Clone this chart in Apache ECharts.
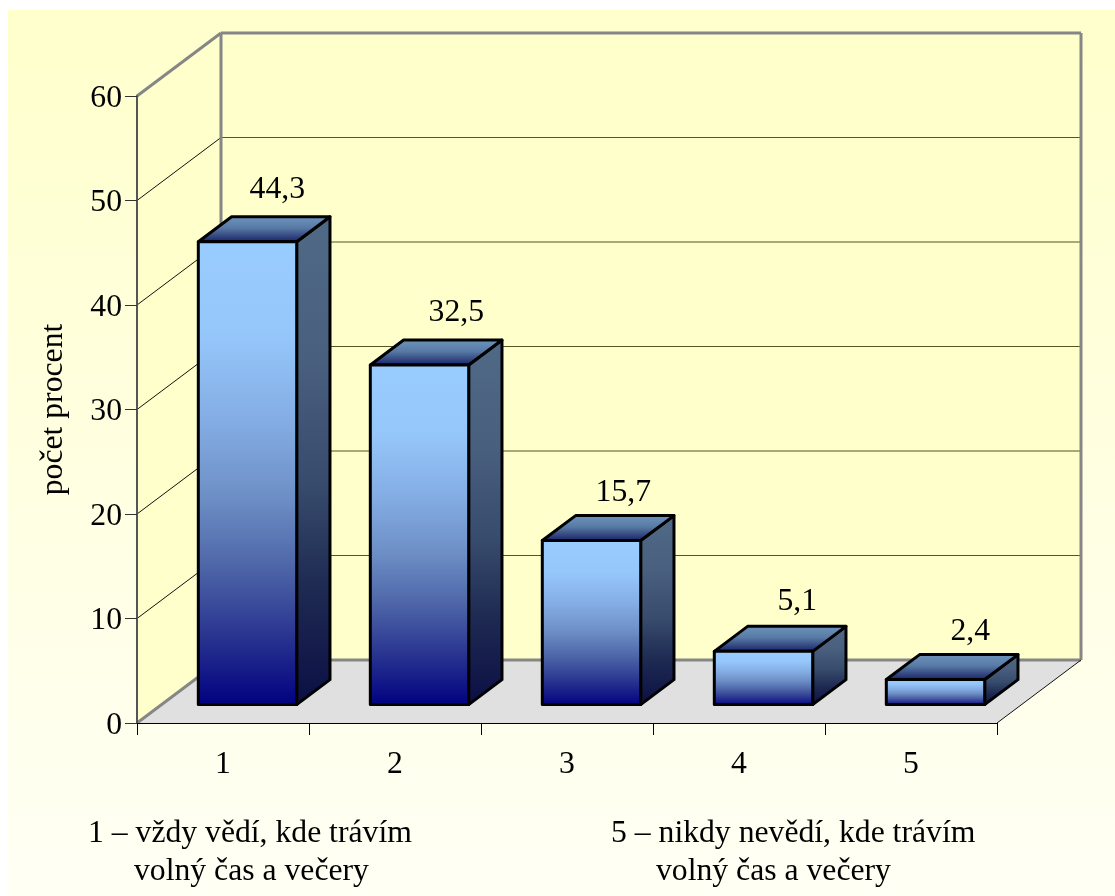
<!DOCTYPE html>
<html>
<head>
<meta charset="utf-8">
<style>html,body{margin:0;padding:0;background:#fff}#chart{width:1115px;height:896px}</style>
<script src="https://cdn.jsdelivr.net/npm/echarts@6/dist/echarts.min.js"></script>
</head>
<body>
<div id="chart"></div>
<script>
// Answer categories and the share of respondents (percent) for each
const categories = ['1', '2', '3', '4', '5'];
const percents = [44.3, 32.5, 15.7, 5.1, 2.4];
const valueTicks = [0, 10, 20, 30, 40, 50, 60];
const noteLeft = ['1 – vždy vědí, kde trávím', 'volný čas a večery'];
const noteRight = ['5 – nikdy nevědí, kde trávím', 'volný čas a večery'];
const axisTitle = 'počet procent';

// Oblique projection of the chart box
const DEPTH_X = 84, DEPTH_Y = -63;
const BAR_FRONT = 0.2917, BAR_BACK = 0.688, BAR_WIDTH = 0.572;
// Hand-placed value labels, relative to the bar's left edge and rear top edge
const labelShift = [[79, -27], [86, -27], [81, -23], [83, -25], [84, -23]];

const FONT = '"Liberation Serif", "Times New Roman", serif';
const FONT_SIZE = 31.7;
const GREY = '#868686';

// Shading of the three visible bar faces, top of face to bottom
const FRONT_SHADE = [[0, '#99CCFF'], [0.2, '#96C7FB'], [0.4, '#82ABE2'], [0.55, '#6D8FC6'], [0.7, '#4E66A8'], [0.85, '#293490'], [1, '#000080']];
const SIDE_SHADE = [[0, '#4F6A86'], [0.3, '#495F7E'], [0.55, '#374B6C'], [0.75, '#1F2B53'], [1, '#0B0F44']];
const TOP_SHADE = [[0, '#6F96BE'], [0.45, '#587BA6'], [0.75, '#34477F'], [1, '#0F1A6A']];

function projector(api) {
  const band = api.size([1, 0])[0];
  const left = api.coord([0, 0])[0] - band / 2;
  // u: position in category bands, v: value, d: depth 0..1
  return (u, v, d) => {
    const y = api.coord([0, v])[1];
    return [left + u * band + d * DEPTH_X, y + d * DEPTH_Y];
  };
}

function poly(points, style) {
  return { type: 'polygon', shape: { points }, style };
}
function line(a, b, stroke, lineWidth) {
  return { type: 'polyline', shape: { points: [a, b] }, style: { stroke, lineWidth, fill: 'none' } };
}
function vGrad(stops) {
  return {
    type: 'linear', x: 0, y: 0, x2: 0, y2: 1,
    colorStops: stops.map(s => ({ offset: s[0], color: s[1] }))
  };
}

function renderBox(params, api) {
  const p = projector(api);
  const n = categories.length;
  const top = valueTicks[valueTicks.length - 1];
  const kids = [];
  // Side wall, back wall, floor
  kids.push(poly([p(0, 0, 0), p(0, 0, 1), p(0, top, 1), p(0, top, 0)], { fill: '#FFFFCC' }));
  kids.push(poly([p(0, 0, 1), p(n, 0, 1), p(n, top, 1), p(0, top, 1)], { fill: '#FFFFCC' }));
  kids.push(poly([p(0, 0, 0), p(n, 0, 0), p(n, 0, 1), p(0, 0, 1)], { fill: '#E0E0E0' }));
  // Gridlines run around the walls
  valueTicks.slice(1, -1).forEach(v => {
    kids.push(line(p(0, v, 0), p(0, v, 1), '#111', 1));
    kids.push(line(p(0, v, 1), p(n, v, 1), '#555522', 1));
  });
  // Heavier frame of the box
  kids.push(line(p(0, 0, 0), p(0, 0, 1), GREY, 3));
  kids.push(line(p(0, 0, 1), p(n, 0, 1), GREY, 3));
  kids.push(line(p(0, top, 0), p(0, top, 1), GREY, 3));
  kids.push(line(p(0, top, 1), p(n, top, 1), GREY, 3));
  kids.push(line(p(0, 0, 1), p(0, top, 1), GREY, 3));
  kids.push(line(p(n, 0, 1), p(n, top, 1), GREY, 3));
  kids.push(line(p(n, 0, 0), p(n, 0, 1), '#111', 1));
  return { type: 'group', children: kids };
}

function renderBar(params, api) {
  const p = projector(api);
  const i = api.value(0), v = api.value(1);
  const l = i + (1 - BAR_WIDTH) / 2, r = l + BAR_WIDTH;
  const edge = { stroke: '#000', lineWidth: 3, lineJoin: 'round' };
  const rear = p(l, v, BAR_BACK);
  const shift = labelShift[i];
  return {
    type: 'group',
    children: [
      poly([p(r, 0, BAR_FRONT), p(r, 0, BAR_BACK), p(r, v, BAR_BACK), p(r, v, BAR_FRONT)],
        Object.assign({ fill: vGrad(SIDE_SHADE) }, edge)),
      poly([p(l, v, BAR_FRONT), p(r, v, BAR_FRONT), p(r, v, BAR_BACK), p(l, v, BAR_BACK)],
        Object.assign({ fill: vGrad(TOP_SHADE) }, edge)),
      poly([p(l, 0, BAR_FRONT), p(r, 0, BAR_FRONT), p(r, v, BAR_FRONT), p(l, v, BAR_FRONT)],
        Object.assign({ fill: vGrad(FRONT_SHADE) }, edge)),
      {
        type: 'text',
        x: p(l, v, BAR_FRONT)[0] + shift[0],
        y: rear[1] + shift[1],
        style: {
          text: String(v).replace('.', ','),
          font: FONT_SIZE + 'px ' + FONT,
          fill: '#000',
          align: 'center',
          verticalAlign: 'middle'
        }
      }
    ]
  };
}

function noteLines(lines, x1, x2) {
  return lines.map((text, k) => ({
    type: 'text',
    left: k === 0 ? x1 : x2,
    top: k === 0 ? 818 : 856,
    style: { text, font: FONT_SIZE + 'px ' + FONT, fill: '#000' }
  }));
}

const chart = echarts.init(document.getElementById('chart'), null, { renderer: 'canvas' });
chart.setOption({
  animation: false,
  backgroundColor: '#fff',
  grid: { left: 137, top: 96, width: 860, height: 627 },
  xAxis: {
    type: 'category',
    data: categories,
    z: 5,
    axisLine: { lineStyle: { color: '#000', width: 1 } },
    axisTick: { show: true, alignWithLabel: false, length: 12, lineStyle: { color: '#000' } },
    axisLabel: { color: '#000', fontFamily: FONT, fontSize: FONT_SIZE, margin: 26 }
  },
  yAxis: {
    type: 'value',
    min: 0,
    max: 60,
    interval: 10,
    z: 5,
    name: axisTitle,
    nameLocation: 'middle',
    nameRotate: 90,
    nameGap: 67,
    nameTextStyle: { color: '#000', fontFamily: FONT, fontSize: FONT_SIZE },
    axisLine: { show: true, lineStyle: { color: '#555', width: 2 } },
    axisTick: { show: true, length: 12, lineStyle: { color: '#333' } },
    // A short line box hung from the tick sets the digits just below its level
    axisLabel: { color: '#000', fontFamily: FONT, fontSize: FONT_SIZE, margin: 15, verticalAlign: 'top', lineHeight: 5 },
    splitLine: { show: false }
  },
  graphic: [
    {
      type: 'rect',
      z: -10,
      silent: true,
      shape: { x: 8, y: 10, width: 1107, height: 886 },
      style: { fill: vGrad([[0, '#FFFFCC'], [1, '#FFFFF5']]) }
    },
    ...noteLines(noteLeft, 88, 134),
    ...noteLines(noteRight, 611, 656)
  ],
  series: [
    { type: 'custom', clip: false, z: 2, renderItem: renderBox, data: [[0, 0]], silent: true },
    {
      type: 'custom', clip: false, z: 3, renderItem: renderBar,
      encode: { x: 0, y: 1 },
      data: percents.map((v, i) => [i, v])
    }
  ]
});
</script>
</body>
</html>
